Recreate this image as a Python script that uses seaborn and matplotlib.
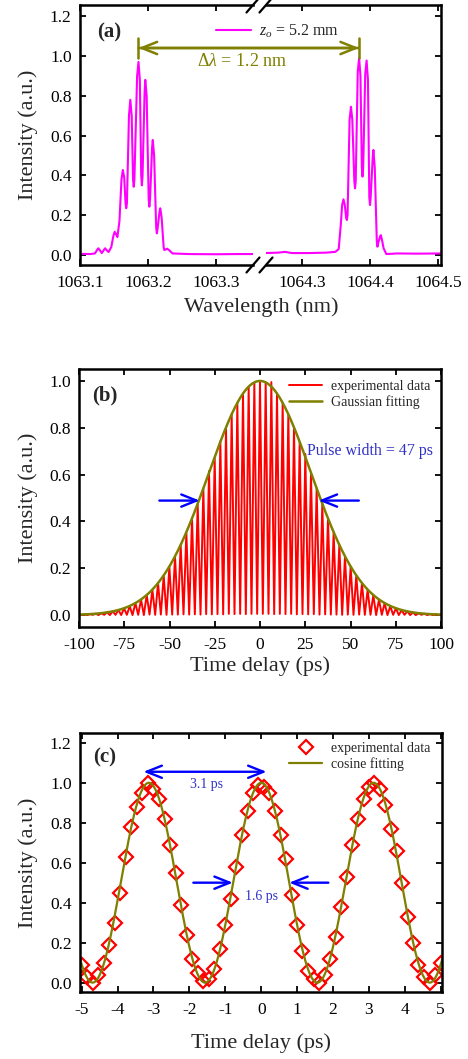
import numpy as np
import matplotlib
matplotlib.use("Agg")
import matplotlib.pyplot as plt
import seaborn as sns

# ---------------- data ----------------
# (a) spectrum, two segments of a broken wavelength axis
spec_left_wl = [1063.100, 1063.115, 1063.122, 1063.125, 1063.127, 1063.129, 1063.132, 1063.135, 1063.137, 1063.139,
                1063.142, 1063.146, 1063.149, 1063.151, 1063.153, 1063.155, 1063.158, 1063.161, 1063.163, 1063.165,
                1063.167, 1063.168, 1063.169, 1063.172, 1063.174, 1063.176, 1063.178, 1063.179, 1063.180, 1063.184,
                1063.186, 1063.188, 1063.190, 1063.191, 1063.192, 1063.195, 1063.196, 1063.198, 1063.201, 1063.202,
                1063.203, 1063.206, 1063.207, 1063.209, 1063.212, 1063.213, 1063.214, 1063.217, 1063.218, 1063.220,
                1063.223, 1063.224, 1063.226, 1063.228, 1063.231, 1063.236, 1063.260, 1063.300, 1063.330, 1063.356]
spec_left_I = [0.006, 0.005, 0.008, 0.025, 0.034, 0.025, 0.010, 0.025, 0.034, 0.025,
               0.015, 0.040, 0.095, 0.117, 0.105, 0.090, 0.170, 0.380, 0.427, 0.390,
               0.260, 0.235, 0.260, 0.700, 0.780, 0.700, 0.380, 0.343, 0.380, 0.900,
               0.970, 0.880, 0.400, 0.350, 0.400, 0.820, 0.880, 0.800, 0.280, 0.243,
               0.280, 0.540, 0.578, 0.500, 0.140, 0.109, 0.130, 0.220, 0.235, 0.190,
               0.040, 0.025, 0.028, 0.032, 0.025, 0.008, 0.005, 0.004, 0.005, 0.005]
spec_right_wl = [1064.245, 1064.265, 1064.275, 1064.285, 1064.310, 1064.335, 1064.349, 1064.354, 1064.357, 1064.359,
                 1064.361, 1064.363, 1064.365, 1064.366, 1064.367, 1064.370, 1064.372, 1064.374, 1064.377, 1064.378,
                 1064.379, 1064.382, 1064.384, 1064.386, 1064.388, 1064.389, 1064.390, 1064.393, 1064.395, 1064.397,
                 1064.399, 1064.400, 1064.401, 1064.404, 1064.405, 1064.407, 1064.410, 1064.411, 1064.412, 1064.415,
                 1064.416, 1064.418, 1064.420, 1064.424, 1064.440, 1064.470, 1064.506]
spec_right_I = [0.010, 0.012, 0.016, 0.010, 0.010, 0.012, 0.016, 0.030, 0.150, 0.250,
                0.280, 0.250, 0.185, 0.176, 0.200, 0.680, 0.745, 0.680, 0.370, 0.335,
                0.370, 0.920, 0.990, 0.900, 0.440, 0.394, 0.440, 0.910, 0.977, 0.880,
                0.290, 0.251, 0.290, 0.490, 0.528, 0.440, 0.070, 0.042, 0.060, 0.095,
                0.100, 0.070, 0.034, 0.005, 0.008, 0.007, 0.008]
a_xticks_left = [1063.1, 1063.2, 1063.3]
a_xticks_right = [1064.3, 1064.4, 1064.5]
peak_left_wl, peak_right_wl = 1063.186, 1064.384

# (b) interferometric autocorrelation: fringe peaks and valleys
peak_t = [-97.03, -93.90, -90.77, -87.64, -84.51, -81.38, -78.25, -75.12, -71.99, -68.86,
          -65.73, -62.60, -59.47, -56.34, -53.21, -50.08, -46.95, -43.82, -40.69, -37.56,
          -34.43, -31.30, -28.17, -25.04, -21.91, -18.78, -15.65, -12.52, -9.39, -6.26,
          -3.13, 0.00, 3.13, 6.26, 9.39, 12.52, 15.65, 18.78, 21.91, 25.04,
          28.17, 31.30, 34.43, 37.56, 40.69, 43.82, 46.95, 50.08, 53.21, 56.34,
          59.47, 62.60, 65.73, 68.86, 71.99, 75.12, 78.25, 81.38, 84.51, 87.64,
          90.77, 93.90, 97.03]
peak_I = [0.003, 0.004, 0.006, 0.008, 0.012, 0.016, 0.022, 0.029, 0.038, 0.051,
          0.066, 0.086, 0.108, 0.137, 0.168, 0.207, 0.250, 0.299, 0.352, 0.413,
          0.476, 0.540, 0.615, 0.672, 0.742, 0.800, 0.858, 0.905, 0.946, 0.975,
          0.992, 0.998, 0.994, 0.995, 0.946, 0.906, 0.857, 0.801, 0.740, 0.688,
          0.607, 0.540, 0.475, 0.412, 0.353, 0.299, 0.250, 0.207, 0.169, 0.136,
          0.108, 0.085, 0.066, 0.051, 0.038, 0.029, 0.021, 0.016, 0.011, 0.008,
          0.006, 0.004, 0.003]
valley_t = [-98.60, -95.47, -92.34, -89.21, -86.08, -82.95, -79.82, -76.69, -73.56, -70.43,
            -67.30, -64.17, -61.04, -57.91, -54.78, -51.65, -48.52, -45.39, -42.26, -39.13,
            -36.00, -32.87, -29.74, -26.61, -23.48, -20.35, -17.22, -14.09, -10.96, -7.83,
            -4.70, -1.57, 1.57, 4.70, 7.83, 10.96, 14.09, 17.22, 20.35, 23.48,
            26.61, 29.74, 32.87, 36.00, 39.13, 42.26, 45.39, 48.52, 51.65, 54.78,
            57.91, 61.04, 64.17, 67.30, 70.43, 73.56, 76.69, 79.82, 82.95, 86.08,
            89.21, 92.34, 95.47, 98.60]
valley_I = [0.000, 0.000, 0.001, 0.000, 0.001, 0.000, 0.001, 0.000, 0.001, 0.000,
            0.001, 0.000, 0.002, 0.001, 0.002, 0.001, 0.002, 0.002, 0.003, 0.002,
            0.003, 0.002, 0.004, 0.003, 0.004, 0.003, 0.005, 0.004, 0.005, 0.004,
            0.005, 0.005, 0.005, 0.005, 0.004, 0.005, 0.004, 0.005, 0.003, 0.004,
            0.003, 0.004, 0.002, 0.003, 0.002, 0.002, 0.001, 0.002, 0.001, 0.002,
            0.001, 0.001, 0.000, 0.001, 0.000, 0.001, 0.000, 0.001, 0.000, 0.000,
            0.001, 0.000, 0.000, 0.000]
edge_t, edge_I = [-100.0, 100.0], [0.0, 0.0]
gauss_fwhm = 66.5          # ps, autocorrelation FWHM (pulse width 47 ps)
b_xticks = [-100, -75, -50, -25, 0, 25, 50, 75, 100]

# (c) fringe detail
c_t = [-5.00, -4.85, -4.69, -4.54, -4.38, -4.23, -4.08, -3.92, -3.77, -3.62,
       -3.46, -3.31, -3.15, -3.00, -2.85, -2.69, -2.54, -2.38, -2.23, -2.08,
       -1.92, -1.77, -1.62, -1.46, -1.31, -1.15, -1.00, -0.85, -0.69, -0.54,
       -0.38, -0.23, -0.08, 0.08, 0.23, 0.38, 0.54, 0.69, 0.85, 1.00,
       1.15, 1.31, 1.46, 1.62, 1.77, 1.92, 2.08, 2.23, 2.38, 2.54,
       2.69, 2.85, 3.00, 3.15, 3.31, 3.46, 3.62, 3.77, 3.92, 4.08,
       4.23, 4.38, 4.54, 4.69, 4.85, 5.00]
c_I = [0.09, 0.03, 0.00, 0.04, 0.10, 0.19, 0.30, 0.45, 0.63, 0.78,
       0.88, 0.95, 1.00, 0.97, 0.92, 0.82, 0.69, 0.55, 0.39, 0.24,
       0.12, 0.05, 0.01, 0.02, 0.07, 0.17, 0.29, 0.42, 0.58, 0.74,
       0.86, 0.95, 0.99, 0.98, 0.95, 0.86, 0.74, 0.62, 0.44, 0.29,
       0.16, 0.06, 0.02, 0.00, 0.04, 0.12, 0.23, 0.38, 0.53, 0.69,
       0.82, 0.92, 0.98, 1.00, 0.97, 0.89, 0.77, 0.66, 0.50, 0.33,
       0.20, 0.09, 0.03, 0.00, 0.04, 0.10]
cos_period = 3.13          # ps
c_xticks = [-5, -4, -3, -2, -1, 0, 1, 2, 3, 4, 5]

# ---------------- style ----------------
sns.set_style("ticks")
plt.rcParams["font.family"] = ["Liberation Serif", "DejaVu Serif"]
plt.rcParams["mathtext.fontset"] = "custom"
plt.rcParams["mathtext.rm"] = "Liberation Serif"
plt.rcParams["mathtext.it"] = "Liberation Serif:italic"
plt.rcParams["mathtext.bf"] = "Liberation Serif:bold"
plt.rcParams["axes.unicode_minus"] = False

MAG, RED, OLIVE, BLUE, TBLUE = "#ff00ff", "#ff0000", "#7f7f00", "#0000ff", "#3030c8"
TICK_FS, LAB_FS = 12.5, 16

W, H = 468, 1059
fig = plt.figure(figsize=(W / 100, H / 100), dpi=100)


def box(l, t, r, b):
    return [l / W, 1 - b / H, (r - l) / W, (b - t) / H]


def style(ax):
    for s in ax.spines.values():
        s.set_linewidth(1.8)
        s.set_color("black")
    ax.tick_params(direction="in", length=4, width=1.3, top=True, right=True,
                   labelsize=TICK_FS, colors="black")
    ax.tick_params(axis="x", pad=7)
    ax.tick_params(axis="y", pad=6)


yfmt = lambda v: f"{v:.1f}"

# ---------------- (a) ----------------
axa1 = fig.add_axes(box(80, 5, 253, 265))
axa2 = fig.add_axes(box(266, 5, 441, 265))
for ax in (axa1, axa2):
    ax.set_facecolor("none")
sns.lineplot(x=spec_left_wl, y=spec_left_I, ax=axa1, color=MAG, lw=1.5, sort=False,
             estimator=None, label=r"$\mathit{z_o}$ = 5.2 mm", solid_joinstyle="round")
sns.lineplot(x=spec_right_wl, y=spec_right_I, ax=axa2, color=MAG, lw=1.5, sort=False,
             estimator=None, solid_joinstyle="round")
for ax in (axa1, axa2):
    style(ax)
    ax.set_ylim(-0.05, 1.256)
    ax.set_yticks([0, 0.2, 0.4, 0.6, 0.8, 1.0, 1.2])
axa1.set_xlim(1063.1, 1063.3544)
axa2.set_xlim(1064.2471, 1064.5044)
axa1.set_xticks(a_xticks_left, [f"{v:.1f}" for v in a_xticks_left])
axa2.set_xticks(a_xticks_right, [f"{v:.1f}" for v in a_xticks_right])
axa1.set_yticklabels([yfmt(v) for v in axa1.get_yticks()])
axa1.spines["right"].set_visible(False)
axa2.spines["left"].set_visible(False)
axa1.tick_params(right=False)
axa2.tick_params(left=False, labelleft=False)
# break marks
for ax, x0 in ((axa1, 1.0), (axa2, 0.0)):
    wpx = 173 if ax is axa1 else 175
    dx, dy = 6.5 / wpx, 7.5 / 260
    for y0 in (0.0, 1.0):
        ax.plot([x0 - dx, x0 + dx], [y0 - dy, y0 + dy], transform=ax.transAxes,
                color="black", lw=1.6, clip_on=False)
axa1.set_ylabel("Intensity (a.u.)", fontsize=LAB_FS)
axa1.yaxis.set_label_coords((38 - 80) / 173, 0.5)
fig.text(261 / W, 1 - 297 / H, "Wavelength (nm)", ha="center", va="top", fontsize=LAB_FS)
axa1.text((97 - 80) / 173, 0.896, "(a)", transform=axa1.transAxes, fontsize=15,
          fontweight="bold", ha="left", va="center")
leg = axa1.legend(loc="upper left", bbox_to_anchor=((216 - 80) / 173, 1 - (23 - 5) / 260),
                  frameon=False, fontsize=11.5, handlelength=2.2, handletextpad=0.5,
                  borderpad=0, borderaxespad=0)
leg.set_zorder(10)
axa1.text(1063.338, 0.97, r"$\mathit{Δλ}$ = 1.2 nm", color=OLIVE, fontsize=13,
          ha="center", va="center", zorder=10)
axa2.annotate("", xy=(peak_right_wl, 1.04), xycoords="data",
              xytext=(peak_left_wl, 1.04), textcoords=axa1.transData,
              arrowprops=dict(arrowstyle="<->, head_length=0.55, head_width=0.22",
                              color=OLIVE, lw=1.8, shrinkA=0, shrinkB=0, mutation_scale=20),
              annotation_clip=False)
axa2.annotate("", xy=(peak_right_wl, 1.04), xycoords="data",
              xytext=(peak_left_wl, 1.04), textcoords=axa1.transData,
              arrowprops=dict(arrowstyle="|-|, widthA=0.35, widthB=0.35",
                              color=OLIVE, lw=1.8, shrinkA=0, shrinkB=0, mutation_scale=20),
              annotation_clip=False)

# ---------------- (b) ----------------
axb = fig.add_axes(box(79, 369, 441, 627))
fr_t = [edge_t[0]]
fr_I = [edge_I[0]]
for i in range(len(peak_t)):
    fr_t += [valley_t[i], peak_t[i]]
    fr_I += [valley_I[i], peak_I[i]]
fr_t += [valley_t[-1], edge_t[1]]
fr_I += [valley_I[-1], edge_I[1]]
sns.lineplot(x=fr_t, y=fr_I, ax=axb, color=RED, lw=1.4, sort=False, estimator=None,
             label="experimental data")
tg = np.linspace(-100, 100, 801)
sns.lineplot(x=tg, y=np.exp(-4 * np.log(2) * tg ** 2 / gauss_fwhm ** 2), ax=axb,
             color=OLIVE, lw=1.8, sort=False, estimator=None, label="Gaussian fitting")
style(axb)
axb.set_xlim(-100, 100)
axb.set_ylim(-0.051, 1.051)
axb.set_xticks(b_xticks, [str(v) for v in b_xticks])
axb.set_yticks([0, 0.2, 0.4, 0.6, 0.8, 1.0])
axb.set_yticklabels([yfmt(v) for v in axb.get_yticks()])
axb.set_ylabel("Intensity (a.u.)", fontsize=LAB_FS)
axb.yaxis.set_label_coords((38 - 79) / 362, 0.5)
axb.set_xlabel("Time delay (ps)", fontsize=LAB_FS)
axb.xaxis.set_label_coords(0.5, -(656 - 627) / 258)
axb.text((92 - 79) / 362, 0.899, "(b)", transform=axb.transAxes, fontsize=15,
         fontweight="bold", ha="left", va="center")
axb.legend(loc="upper left", bbox_to_anchor=((289 - 79) / 362, 0.959), frameon=False,
           fontsize=10, handlelength=2.4, handletextpad=0.6, labelspacing=0.2,
           borderpad=0, borderaxespad=0)
arw = dict(arrowstyle="->, head_length=0.55, head_width=0.22", color=BLUE, lw=1.7,
           shrinkA=0, shrinkB=0, mutation_scale=20)
axb.annotate("", xy=(-33.3, 0.489), xytext=(-55.6, 0.489), arrowprops=arw)
axb.annotate("", xy=(32.4, 0.489), xytext=(54.6, 0.489), arrowprops=arw)
axb.text(25.8, 0.70, "Pulse width = 47 ps", color=TBLUE, fontsize=11.5, ha="left", va="center")

# ---------------- (c) ----------------
axc = fig.add_axes(box(80, 733, 442, 992))
sns.lineplot(x=c_t, y=c_I, ax=axc, color=RED, sort=False, estimator=None, lw=0,
             marker="D", markersize=7, markerfacecolor="none", markeredgecolor=RED,
             markeredgewidth=1.6, label="experimental data")
tc = np.linspace(-5.05, 5.05, 1011)
sns.lineplot(x=tc, y=0.5 + 0.5 * np.cos(2 * np.pi * tc / cos_period), ax=axc, color=OLIVE,
             lw=1.6, sort=False, estimator=None, label="cosine fitting")
style(axc)
axc.set_xlim(-5.047, 5.036)
axc.set_ylim(-0.047, 1.249)
axc.set_xticks(c_xticks, [str(v) for v in c_xticks])
axc.set_yticks([0, 0.2, 0.4, 0.6, 0.8, 1.0, 1.2])
axc.set_yticklabels([yfmt(v) for v in axc.get_yticks()])
axc.set_ylabel("Intensity (a.u.)", fontsize=LAB_FS)
axc.yaxis.set_label_coords((38 - 80) / 362, 0.5)
axc.set_xlabel("Time delay (ps)", fontsize=LAB_FS)
axc.xaxis.set_label_coords(0.5, -(1033 - 992) / 259)
axc.text((93 - 80) / 362, 0.907, "(c)", transform=axc.transAxes, fontsize=15,
         fontweight="bold", ha="left", va="center")
axc.legend(loc="upper left", bbox_to_anchor=((289 - 80) / 362, 0.967), frameon=False,
           fontsize=10, handlelength=2.4, handletextpad=0.6, labelspacing=0.2,
           borderpad=0, borderaxespad=0)
axc.annotate("", xy=(0.15, 1.055), xytext=(-3.28, 1.055),
             arrowprops=dict(arrowstyle="<->, head_length=0.55, head_width=0.22", color=BLUE,
                             lw=1.7, shrinkA=0, shrinkB=0, mutation_scale=20))
axc.annotate("", xy=(-0.79, 0.5), xytext=(-1.89, 0.5), arrowprops=arw)
axc.annotate("", xy=(0.78, 0.5), xytext=(1.87, 0.5), arrowprops=arw)
axc.text(-1.53, 0.99, "3.1 ps", color=TBLUE, fontsize=10, ha="center", va="center")
axc.text(0.0, 0.433, "1.6 ps", color=TBLUE, fontsize=10, ha="center", va="center")

fig.savefig("out.png", dpi=100)
